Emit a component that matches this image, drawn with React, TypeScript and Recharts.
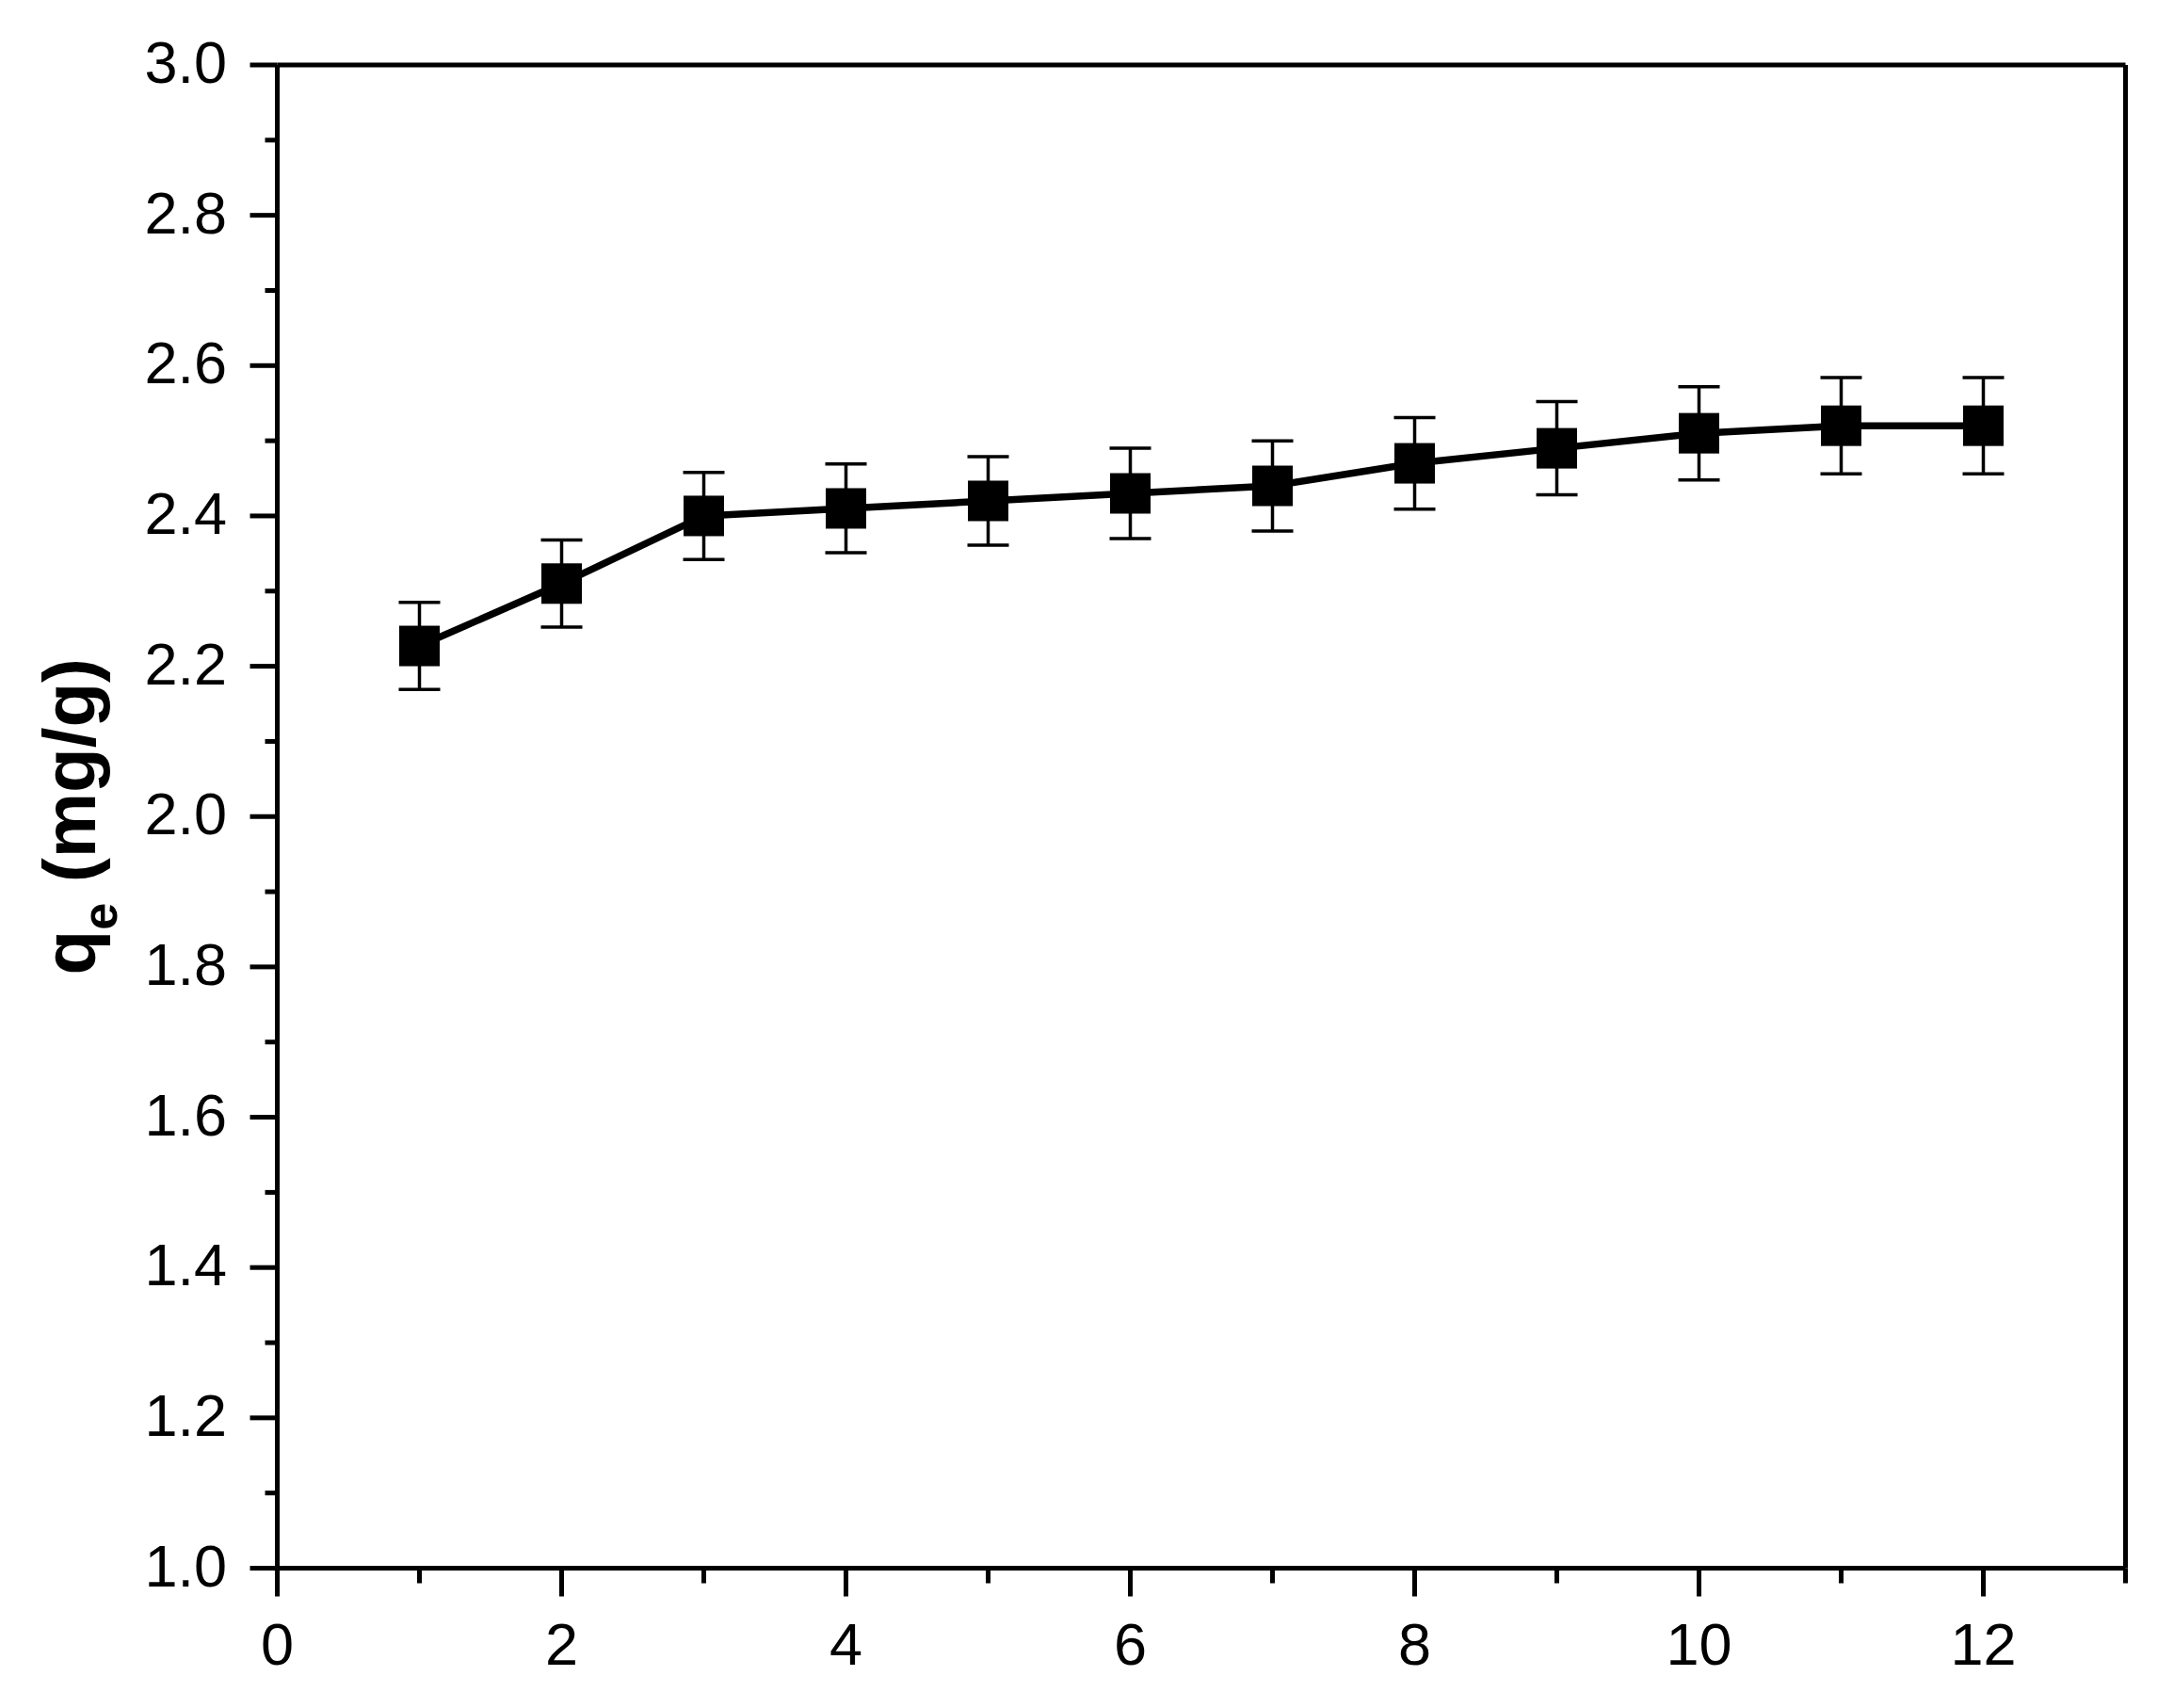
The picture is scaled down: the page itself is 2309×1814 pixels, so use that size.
import React from 'react';
import { ComposedChart, Line, XAxis, YAxis, ErrorBar, ReferenceLine } from 'recharts';

// adsorption time vs qe
const times = [1, 2, 3, 4, 5, 6, 7, 8, 9, 10, 11, 12];
const qeValues = [2.227, 2.31, 2.4, 2.41, 2.42, 2.43, 2.44, 2.47, 2.49, 2.51, 2.52, 2.52];
const qeErrors = [0.058, 0.058, 0.058, 0.059, 0.059, 0.06, 0.06, 0.061, 0.062, 0.062, 0.064, 0.064];

const xMajorTicks = [0, 2, 4, 6, 8, 10, 12];
const xMinorTicks = [1, 3, 5, 7, 9, 11, 13];
const yMajorTicks = [1.0, 1.2, 1.4, 1.6, 1.8, 2.0, 2.2, 2.4, 2.6, 2.8, 3.0];
const yMinorTicks = [1.1, 1.3, 1.5, 1.7, 1.9, 2.1, 2.3, 2.5, 2.7, 2.9];

const data = times.map((t, i) => ({ time: t, qe: qeValues[i], err: qeErrors[i] }));

const FONT = '"Liberation Sans", Arial, sans-serif';
const PLOT_LEFT = 294.5;
const PLOT_BOTTOM = 1665.5;
const AXIS_W = 5;

const isIn = (list: number[], v: number) => list.some(t => Math.abs(t - v) < 1e-6);

const XTick = (props: any) => {
  const { x, payload } = props;
  const major = isIn(xMajorTicks, payload.value);
  const len = major ? 30 : 16;
  return (
    <g>
      <line x1={x} x2={x} y1={PLOT_BOTTOM} y2={PLOT_BOTTOM + len} stroke="#000" strokeWidth={AXIS_W} />
      {major && (
        <text x={x} y={PLOT_BOTTOM + 102} textAnchor="middle" fontSize={63} fontFamily={FONT} fill="#000">
          {payload.value}
        </text>
      )}
    </g>
  );
};

const YTick = (props: any) => {
  const { y, payload } = props;
  const major = isIn(yMajorTicks, payload.value);
  const len = major ? 29 : 13;
  return (
    <g>
      <line x1={PLOT_LEFT - len} x2={PLOT_LEFT} y1={y} y2={y} stroke="#000" strokeWidth={AXIS_W} />
      {major && (
        <text x={241} y={y + 19} textAnchor="end" fontSize={63} fontFamily={FONT} fill="#000">
          {Number(payload.value).toFixed(1)}
        </text>
      )}
    </g>
  );
};

const YLabel = (props: any) => {
  const vb = props.viewBox || {};
  const cx = 101;
  const cy = vb.y + vb.height / 2;
  return (
    <text
      x={cx}
      y={cy}
      transform={`rotate(-90, ${cx}, ${cy})`}
      textAnchor="middle"
      fontFamily={FONT}
      fontWeight="bold"
      fontSize={78}
      fill="#000"
    >
      q
      <tspan fontSize={52} dy={23}>e</tspan>
      <tspan dy={-23}> (mg/g)</tspan>
    </text>
  );
};

const Square = (props: any) => {
  const { cx, cy, index } = props;
  return <rect key={index} x={cx - 21.5} y={cy - 21.5} width={43} height={43} fill="#000" />;
};

export default function App() {
  const xTicks = [...xMajorTicks, ...xMinorTicks].sort((a, b) => a - b);
  const yTicks = [...yMajorTicks, ...yMinorTicks].sort((a, b) => a - b);
  return (
    <div style={{ position: 'absolute', left: 0, top: 0, background: '#fff' }}>
      <ComposedChart
        width={2309}
        height={1814}
        data={data}
        margin={{ top: 69, right: 51.5, bottom: 0, left: 0 }}
      >
        <XAxis
          dataKey="time"
          type="number"
          domain={[0, 13]}
          ticks={xTicks}
          interval={0}
          height={148.5}
          tickLine={false}
          axisLine={{ stroke: '#000', strokeWidth: AXIS_W }}
          tick={<XTick />}
        />
        <YAxis
          type="number"
          domain={[1, 3]}
          ticks={yTicks}
          interval={0}
          width={294.5}
          tickLine={false}
          axisLine={{ stroke: '#000', strokeWidth: AXIS_W }}
          tick={<YTick />}
          label={(p: any) => <YLabel {...p} />}
        />
        <ReferenceLine y={3} stroke="#000" strokeWidth={AXIS_W} />
        <ReferenceLine x={13} stroke="#000" strokeWidth={AXIS_W} />
        <Line
          dataKey="qe"
          type="linear"
          stroke="#000"
          strokeWidth={7.5}
          dot={(p: any) => <Square {...p} />}
          activeDot={false}
          isAnimationActive={false}
        >
          <ErrorBar dataKey="err" width={22} stroke="#000" strokeWidth={3.5} direction="y" isAnimationActive={false} />
        </Line>
      </ComposedChart>
    </div>
  );
}
